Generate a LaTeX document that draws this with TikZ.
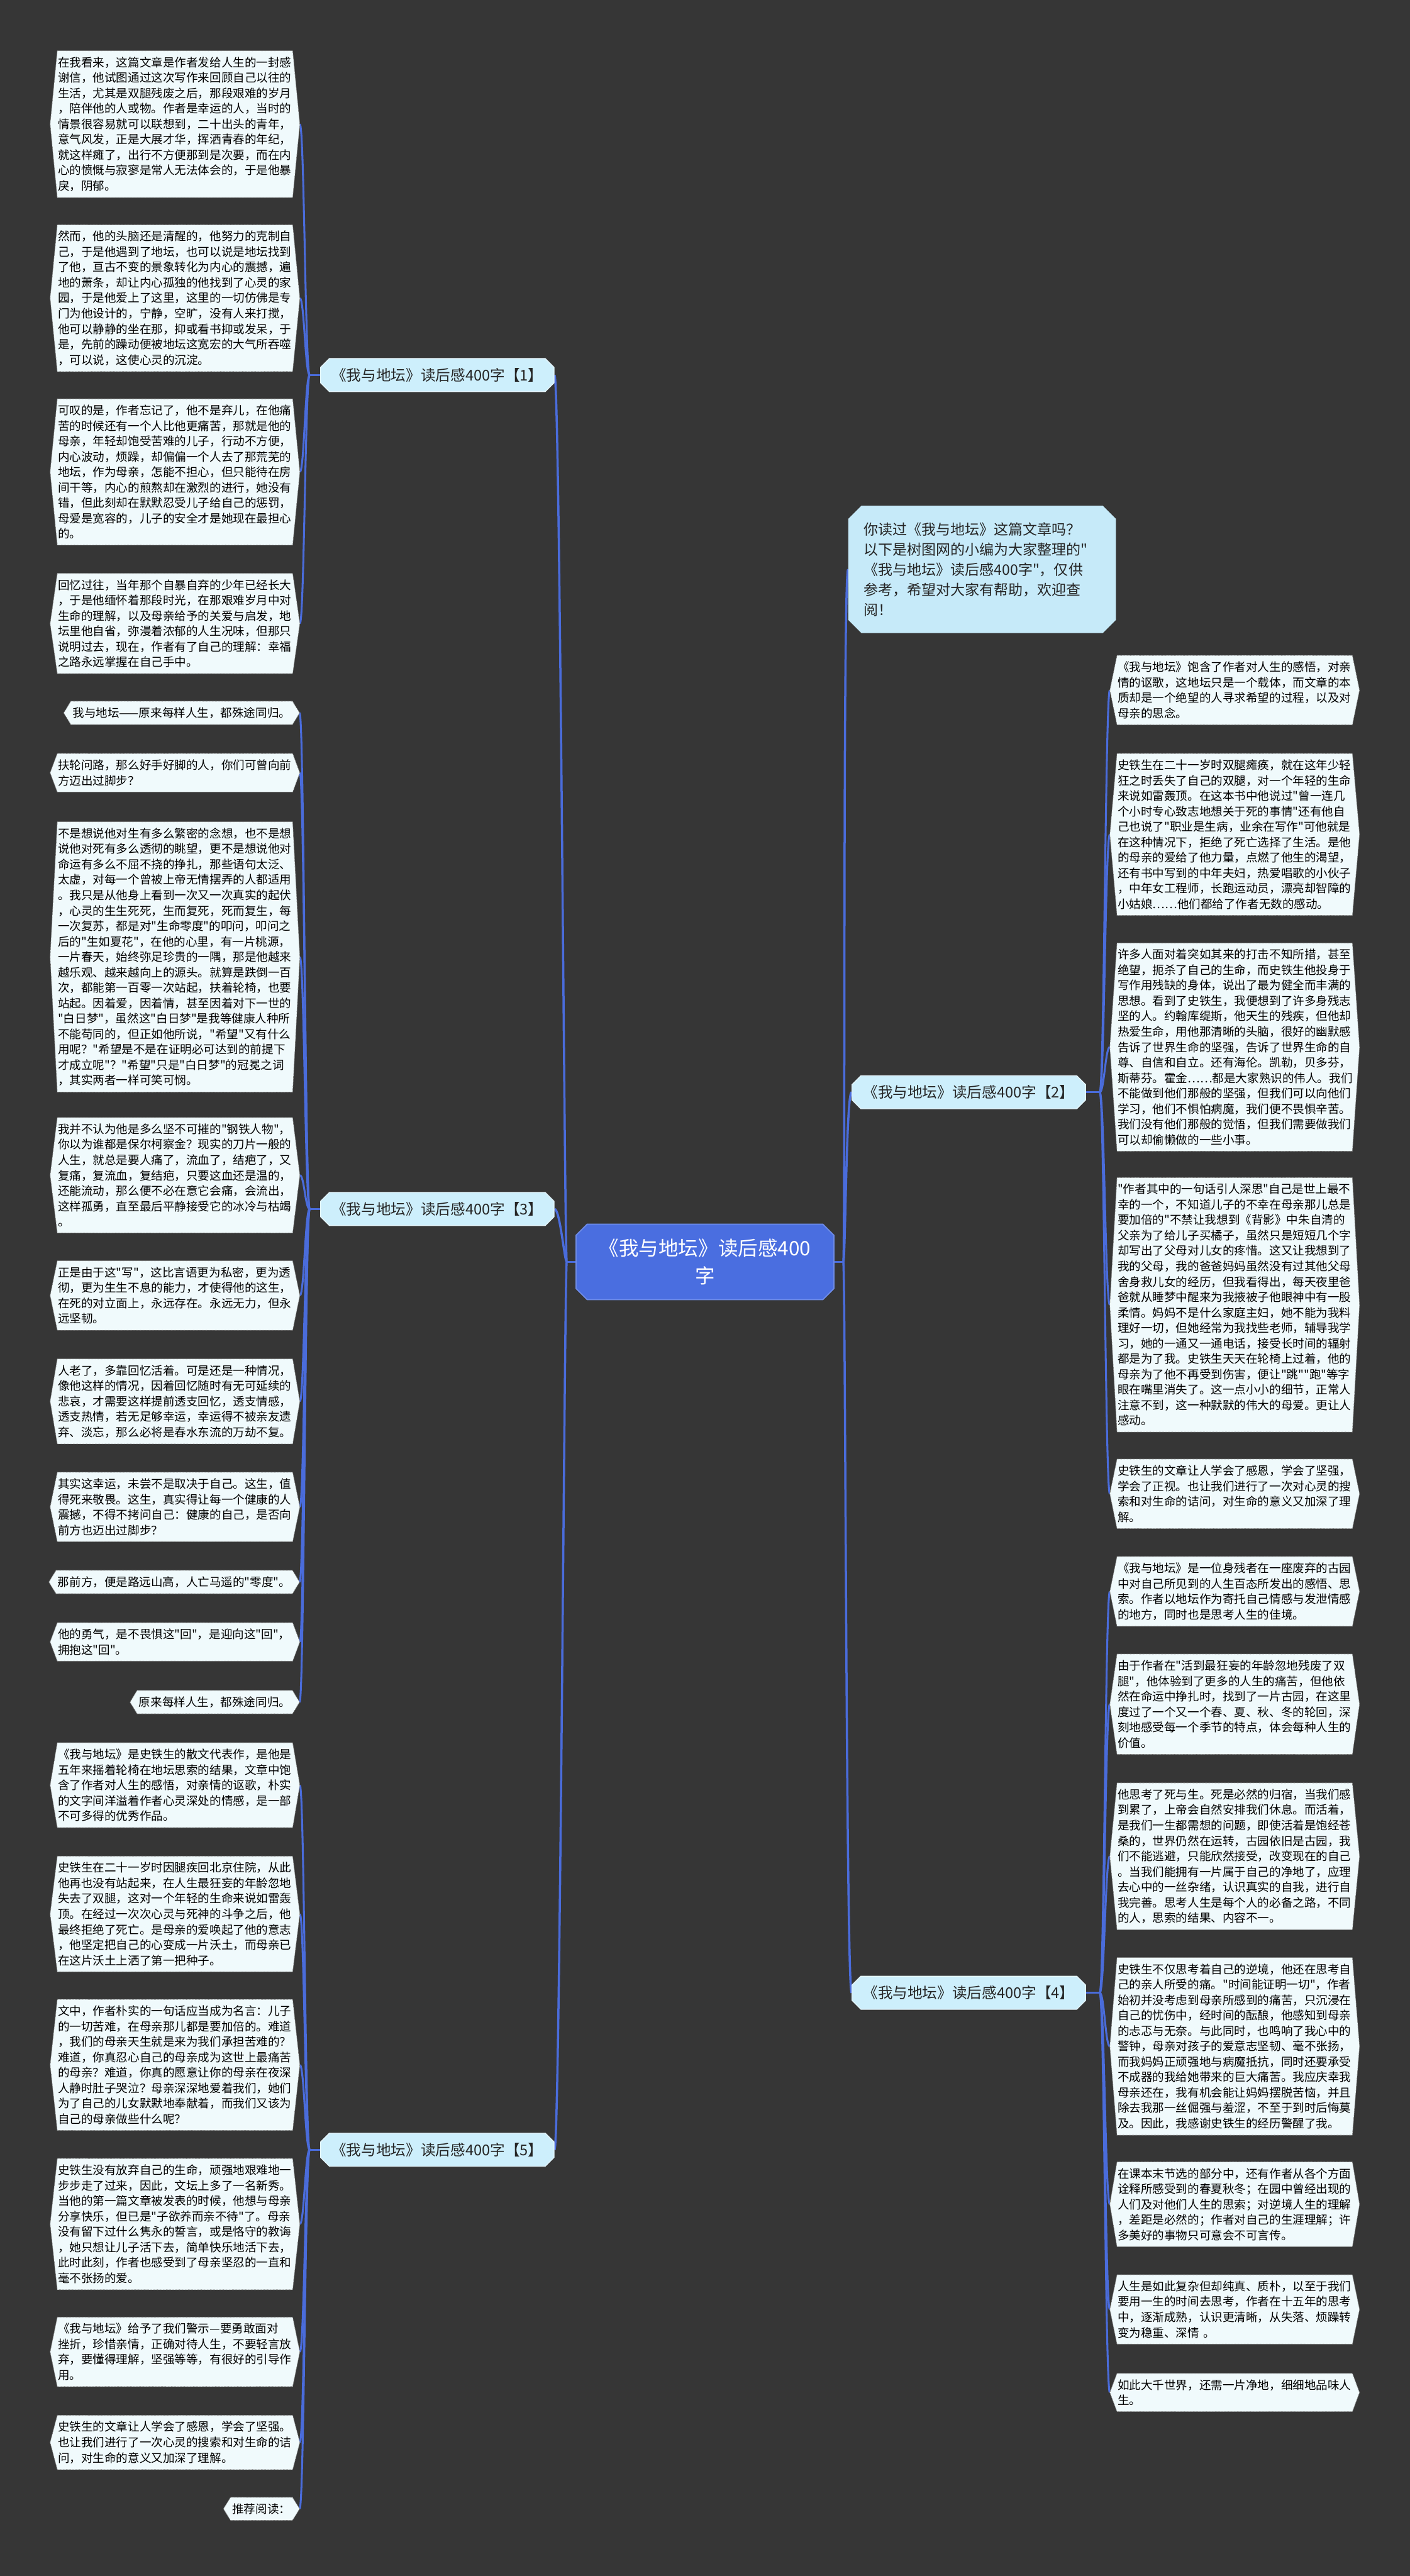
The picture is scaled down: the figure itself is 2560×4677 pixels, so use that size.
\documentclass[tikz,border=0pt]{standalone}
\usepackage{fontspec}
\setmainfont{Noto Sans CJK SC}[Ligatures=TeXOff]
\usetikzlibrary{shapes.misc,calc}
\pgfdeclarelayer{background}
\pgfsetlayers{background,main}
\definecolor{bgc}{HTML}{363636}
\definecolor{linkc}{HTML}{4A6CDB}
\definecolor{centerc}{HTML}{4A6EE0}
\definecolor{branchc}{HTML}{CDEFFC}
\definecolor{branche}{HTML}{E6F7FE}
\definecolor{introc}{HTML}{C6EAF9}
\definecolor{leaffill}{HTML}{F0FAFC}
\definecolor{leafedge}{HTML}{777777}
\newcommand\leaffont{\fontsize{21.2}{28}\selectfont}
\tikzset{
  leaf/.style={anchor=north west, inner xsep=1pt, inner ysep=11pt, text width=425pt, align=left, font=\leaffont, text=black},
  shortleaf/.style={anchor=north east, inner xsep=3pt, inner ysep=11pt, font=\leaffont, text=black},
  hexbox/.style={fill=leaffill, draw=leafedge, densely dotted, line width=1pt},
  link/.style={draw=linkc, line width=4pt},
  sublink/.style={draw=linkc, line width=3.5pt},
  branch/.style={chamfered rectangle, chamfered rectangle xsep=8pt, chamfered rectangle ysep=8pt, fill=branchc, draw=branche, line width=1.5pt, minimum width=424pt, minimum height=60pt, font=\fontsize{27}{30}\selectfont, text=black!85, inner sep=4pt},
}
\begin{document}
\begin{tikzpicture}[x=1pt,y=-1pt]
\begin{pgfonlayer}{background}
\fill[bgc] (0,0) rectangle (2560,4677);
\end{pgfonlayer}
\useasboundingbox (0,0) rectangle (2560,4677);

% center
\node[chamfered rectangle, chamfered rectangle xsep=10pt, chamfered rectangle ysep=10pt, fill=centerc, draw=centerc!80!white, line width=2pt, minimum width=468pt, minimum height=137pt, text=white, align=center, font=\fontsize{36}{51}\selectfont] (c) at (1280,2291) {《我与地坛》读后感400\\字};

% branches
\node[branch] (b1) at (794,681) {《我与地坛》读后感400字【1】};
\node[branch] (b3) at (794,2195) {《我与地坛》读后感400字【3】};
\node[branch] (b5) at (794,3903) {《我与地坛》读后感400字【5】};
\node[branch] (b2) at (1759,1983) {《我与地坛》读后感400字【2】};
\node[branch] (b4) at (1759,3618) {《我与地坛》读后感400字【4】};

% intro
\node[chamfered rectangle, chamfered rectangle xsep=12pt, chamfered rectangle ysep=12pt, fill=introc, anchor=north west, inner xsep=16pt, inner ysep=18pt, text width=430pt, align=left, font=\fontsize{26.3}{36.7}\selectfont, text=black!85] (intro) at (1552,930) {你读过《我与地坛》这篇文章吗？\\以下是树图网的小编为大家整理的"\\《我与地坛》读后感400字"，仅供\\参考，希望对大家有帮助，欢迎查\\阅！};

% ---------- left leaves, branch 1
\node[leaf] (L1a) at (104,92) {在我看来，这篇文章是作者发给人生的一封感\\谢信，他试图通过这次写作来回顾自己以往的\\生活，尤其是双腿残废之后，那段艰难的岁月\\，陪伴他的人或物。作者是幸运的人，当时的\\情景很容易就可以联想到，二十出头的青年，\\意气风发，正是大展才华，挥洒青春的年纪，\\就这样瘫了，出行不方便那到是次要，而在内\\心的愤慨与寂寥是常人无法体会的，于是他暴\\戾，阴郁。};
\node[leaf] (L1b) at (104,408) {然而，他的头脑还是清醒的，他努力的克制自\\己，于是他遇到了地坛，也可以说是地坛找到\\了他，亘古不变的景象转化为内心的震撼，遍\\地的萧条，却让内心孤独的他找到了心灵的家\\园，于是他爱上了这里，这里的一切仿佛是专\\门为他设计的，宁静，空旷，没有人来打搅，\\他可以静静的坐在那，抑或看书抑或发呆，于\\是，先前的躁动便被地坛这宽宏的大气所吞噬\\，可以说，这使心灵的沉淀。};
\node[leaf] (L1c) at (104,724) {可叹的是，作者忘记了，他不是弃儿，在他痛\\苦的时候还有一个人比他更痛苦，那就是他的\\母亲，年轻却饱受苦难的儿子，行动不方便，\\内心波动，烦躁，却偏偏一个人去了那荒芜的\\地坛，作为母亲，怎能不担心，但只能待在房\\间干等，内心的煎熬却在激烈的进行，她没有\\错，但此刻却在默默忍受儿子给自己的惩罚，\\母爱是宽容的，儿子的安全才是她现在最担心\\的。};
\node[leaf] (L1d) at (104,1041) {回忆过往，当年那个自暴自弃的少年已经长大\\，于是他缅怀着那段时光，在那艰难岁月中对\\生命的理解，以及母亲给予的关爱与启发，地\\坛里他自省，弥漫着浓郁的人生况味，但那只\\说明过去，现在，作者有了自己的理解：幸福\\之路永远掌握在自己手中。};

% ---------- branch 3
\node[shortleaf] (L3a) at (531,1273) {我与地坛——原来每样人生，都殊途同归。};
\node[leaf] (L3b) at (104,1368) {扶轮问路，那么好手好脚的人，你们可曾向前\\方迈出过脚步？};
\node[leaf] (L3c) at (104,1492) {不是想说他对生有多么繁密的念想，也不是想\\说他对死有多么透彻的眺望，更不是想说他对\\命运有多么不屈不挠的挣扎，那些语句太泛、\\太虚，对每一个曾被上帝无情摆弄的人都适用\\。我只是从他身上看到一次又一次真实的起伏\\，心灵的生生死死，生而复死，死而复生，每\\一次复苏，都是对"生命零度"的叩问，叩问之\\后的"生如夏花"，在他的心里，有一片桃源，\\一片春天，始终弥足珍贵的一隅，那是他越来\\越乐观、越来越向上的源头。就算是跌倒一百\\次，都能第一百零一次站起，扶着轮椅，也要\\站起。因着爱，因着情，甚至因着对下一世的\\"白日梦"，虽然这"白日梦"是我等健康人种所\\不能苟同的，但正如他所说，"希望"又有什么\\用呢？"希望是不是在证明必可达到的前提下\\才成立呢"？"希望"只是"白日梦"的冠冕之词\\，其实两者一样可笑可悯。};
\node[leaf] (L3d) at (104,2029) {我并不认为他是多么坚不可摧的"钢铁人物"，\\你以为谁都是保尔柯察金？现实的刀片一般的\\人生，就总是要人痛了，流血了，结疤了，又\\复痛，复流血，复结疤，只要这血还是温的，\\还能流动，那么便不必在意它会痛，会流出，\\这样孤勇，直至最后平静接受它的冰冷与枯竭\\。};
\node[leaf] (L3e) at (104,2289) {正是由于这"写"，这比言语更为私密，更为透\\彻，更为生生不息的能力，才使得他的这生，\\在死的对立面上，永远存在。永远无力，但永\\远坚韧。};
\node[leaf] (L3f) at (104,2467) {人老了，多靠回忆活着。可是还是一种情况，\\像他这样的情况，因着回忆随时有无可延续的\\悲哀，才需要这样提前透支回忆，透支情感，\\透支热情，若无足够幸运，幸运得不被亲友遗\\弃、淡忘，那么必将是春水东流的万劫不复。};
\node[leaf] (L3g) at (104,2673) {其实这幸运，未尝不是取决于自己。这生，值\\得死来敬畏。这生，真实得让每一个健康的人\\震撼，不得不拷问自己：健康的自己，是否向\\前方也迈出过脚步？};
\node[shortleaf] (L3h) at (531,2851) {那前方，便是路远山高，人亡马遥的"零度"。};
\node[leaf] (L3i) at (104,2946) {他的勇气，是不畏惧这"回"，是迎向这"回"，\\拥抱这"回"。};
\node[shortleaf] (L3j) at (531,3069) {原来每样人生，都殊途同归。};

% ---------- branch 5
\node[leaf] (L5a) at (104,3164) {《我与地坛》是史铁生的散文代表作，是他是\\五年来摇着轮椅在地坛思索的结果，文章中饱\\含了作者对人生的感悟，对亲情的讴歌，朴实\\的文字间洋溢着作者心灵深处的情感，是一部\\不可多得的优秀作品。};
\node[leaf] (L5b) at (104,3370) {史铁生在二十一岁时因腿疾回北京住院，从此\\他再也没有站起来，在人生最狂妄的年龄忽地\\失去了双腿，这对一个年轻的生命来说如雷轰\\顶。在经过一次次心灵与死神的斗争之后，他\\最终拒绝了死亡。是母亲的爱唤起了他的意志\\，他坚定把自己的心变成一片沃土，而母亲已\\在这片沃土上洒了第一把种子。};
\node[leaf] (L5c) at (104,3630) {文中，作者朴实的一句话应当成为名言：儿子\\的一切苦难，在母亲那儿都是要加倍的。难道\\，我们的母亲天生就是来为我们承担苦难的？\\难道，你真忍心自己的母亲成为这世上最痛苦\\的母亲？难道，你真的愿意让你的母亲在夜深\\人静时肚子哭泣？母亲深深地爱着我们，她们\\为了自己的儿女默默地奉献着，而我们又该为\\自己的母亲做些什么呢？};
\node[leaf] (L5d) at (104,3919) {史铁生没有放弃自己的生命，顽强地艰难地一\\步步走了过来，因此，文坛上多了一名新秀。\\当他的第一篇文章被发表的时候，他想与母亲\\分享快乐，但已是"子欲养而亲不待"了。母亲\\没有留下过什么隽永的誓言，或是恪守的教诲\\，她只想让儿子活下去，简单快乐地活下去，\\此时此刻，作者也感受到了母亲坚忍的一直和\\毫不张扬的爱。};
\node[leaf] (L5e) at (104,4207) {《我与地坛》给予了我们警示—要勇敢面对\\挫折，珍惜亲情，正确对待人生，不要轻言放\\弃，要懂得理解，坚强等等，有很好的引导作\\用。};
\node[leaf] (L5f) at (104,4385) {史铁生的文章让人学会了感恩，学会了坚强。\\也让我们进行了一次心灵的搜索和对生命的诘\\问，对生命的意义又加深了理解。};
\node[shortleaf] (L5g) at (531,4534) {推荐阅读：};

% ---------- right leaves, branch 2
\node[leaf] (R2a) at (2028,1190) {《我与地坛》饱含了作者对人生的感悟，对亲\\情的讴歌，这地坛只是一个载体，而文章的本\\质却是一个绝望的人寻求希望的过程，以及对\\母亲的思念。};
\node[leaf] (R2b) at (2028,1368) {史铁生在二十一岁时双腿瘫痪，就在这年少轻\\狂之时丢失了自己的双腿，对一个年轻的生命\\来说如雷轰顶。在这本书中他说过"曾一连几\\个小时专心致志地想关于死的事情"还有他自\\己也说了"职业是生病，业余在写作"可他就是\\在这种情况下，拒绝了死亡选择了生活。是他\\的母亲的爱给了他力量，点燃了他生的渴望，\\还有书中写到的中年夫妇，热爱唱歌的小伙子\\，中年女工程师，长跑运动员，漂亮却智障的\\小姑娘……他们都给了作者无数的感动。};
\node[leaf] (R2c) at (2028,1712) {许多人面对着突如其来的打击不知所措，甚至\\绝望，扼杀了自己的生命，而史铁生他投身于\\写作用残缺的身体，说出了最为健全而丰满的\\思想。看到了史铁生，我便想到了许多身残志\\坚的人。约翰库缇斯，他天生的残疾，但他却\\热爱生命，用他那清晰的头脑，很好的幽默感\\告诉了世界生命的坚强，告诉了世界生命的自\\尊、自信和自立。还有海伦。凯勒，贝多芬，\\斯蒂芬。霍金……都是大家熟识的伟人。我们\\不能做到他们那般的坚强，但我们可以向他们\\学习，他们不惧怕病魔，我们便不畏惧辛苦。\\我们没有他们那般的觉悟，但我们需要做我们\\可以却偷懒做的一些小事。};
\node[leaf] (R2d) at (2028,2138) {"作者其中的一句话引人深思"自己是世上最不\\幸的一个，不知道儿子的不幸在母亲那儿总是\\要加倍的"不禁让我想到《背影》中朱自清的\\父亲为了给儿子买橘子，虽然只是短短几个字\\却写出了父母对儿女的疼惜。这又让我想到了\\我的父母，我的爸爸妈妈虽然没有过其他父母\\舍身救儿女的经历，但我看得出，每天夜里爸\\爸就从睡梦中醒来为我掖被子他眼神中有一股\\柔情。妈妈不是什么家庭主妇，她不能为我料\\理好一切，但她经常为我找些老师，辅导我学\\习，她的一通又一通电话，接受长时间的辐射\\都是为了我。史铁生天天在轮椅上过着，他的\\母亲为了他不再受到伤害，便让"跳""跑"等字\\眼在嘴里消失了。这一点小小的细节，正常人\\注意不到，这一种默默的伟大的母爱。更让人\\感动。};
\node[leaf] (R2e) at (2028,2649) {史铁生的文章让人学会了感恩，学会了坚强，\\学会了正视。也让我们进行了一次对心灵的搜\\索和对生命的诘问，对生命的意义又加深了理\\解。};

% ---------- branch 4
\node[leaf] (R4a) at (2028,2826) {《我与地坛》是一位身残者在一座废弃的古园\\中对自己所见到的人生百态所发出的感悟、思\\索。作者以地坛作为寄托自己情感与发泄情感\\的地方，同时也是思考人生的佳境。};
\node[leaf] (R4b) at (2028,3003) {由于作者在"活到最狂妄的年龄忽地残废了双\\腿"，他体验到了更多的人生的痛苦，但他依\\然在命运中挣扎时，找到了一片古园，在这里\\度过了一个又一个春、夏、秋、冬的轮回，深\\刻地感受每一个季节的特点，体会每种人生的\\价值。};
\node[leaf] (R4c) at (2028,3237) {他思考了死与生。死是必然的归宿，当我们感\\到累了，上帝会自然安排我们休息。而活着，\\是我们一生都需想的问题，即使活着是饱经苍\\桑的，世界仍然在运转，古园依旧是古园，我\\们不能逃避，只能欣然接受，改变现在的自己\\。当我们能拥有一片属于自己的净地了，应理\\去心中的一丝杂绪，认识真实的自我，进行自\\我完善。思考人生是每个人的必备之路，不同\\的人，思索的结果、内容不一。};
\node[leaf] (R4d) at (2028,3554) {史铁生不仅思考着自己的逆境，他还在思考自\\己的亲人所受的痛。"时间能证明一切"，作者\\始初并没考虑到母亲所感到的痛苦，只沉浸在\\自己的忧伤中，经时间的酝酿，他感知到母亲\\的忐忑与无奈。与此同时，也鸣响了我心中的\\警钟，母亲对孩子的爱意志坚韧、毫不张扬，\\而我妈妈正顽强地与病魔抵抗，同时还要承受\\不成器的我给她带来的巨大痛苦。我应庆幸我\\母亲还在，我有机会能让妈妈摆脱苦恼，并且\\除去我那一丝倔强与羞涩，不至于到时后悔莫\\及。因此，我感谢史铁生的经历警醒了我。};
\node[leaf] (R4e) at (2028,3925) {在课本末节选的部分中，还有作者从各个方面\\诠释所感受到的春夏秋冬；在园中曾经出现的\\人们及对他们人生的思索；对逆境人生的理解\\，差距是必然的；作者对自己的生涯理解；许\\多美好的事物只可意会不可言传。};
\node[leaf] (R4f) at (2028,4130) {人生是如此复杂但却纯真、质朴，以至于我们\\要用一生的时间去思考，作者在十五年的思考\\中，逐渐成熟，认识更清晰，从失落、烦躁转\\变为稳重、深情 。};
\node[leaf] (R4g) at (2028,4309) {如此大千世界，还需一片净地，细细地品味人\\生。};

\begin{pgfonlayer}{background}
% center to branches
\draw[link] (c.west) -- ++(-16,0) coordinate (cl);
\draw[link] (c.east) -- ++(16,0) coordinate (cr);
\foreach \b in {b1,b3,b5}
  \draw[link] (cl) .. controls +(-4,0) and +(10,0) .. (\b.east);
\foreach \b in {intro,b2,b4}
  \draw[link] (cr) .. controls +(4,0) and +(-10,0) .. (\b.west);
% junctions
\draw[sublink] (b1.west) -- ++(-19,0) coordinate (j1);
\draw[sublink] (b3.west) -- ++(-19,0) coordinate (j3);
\draw[sublink] (b5.west) -- ++(-19,0) coordinate (j5);
\draw[sublink] (b2.east) -- ++(25,0) coordinate (j2);
\draw[sublink] (b4.east) -- ++(25,0) coordinate (j4);
\foreach \n in {L1a,L1b,L1c,L1d}
  \draw[sublink] (j1) .. controls +(-8,0) and +(8,0) .. ([xshift=13pt]\n.east);
\foreach \n in {L3a,L3b,L3c,L3d,L3e,L3f,L3g,L3h,L3i,L3j}
  \draw[sublink] (j3) .. controls +(-8,0) and +(8,0) .. ([xshift=13pt]\n.east);
\foreach \n in {L5a,L5b,L5c,L5d,L5e,L5f,L5g}
  \draw[sublink] (j5) .. controls +(-8,0) and +(8,0) .. ([xshift=13pt]\n.east);
\foreach \n in {R2a,R2b,R2c,R2d,R2e}
  \draw[sublink] (j2) .. controls +(8,0) and +(-8,0) .. ([xshift=-13pt]\n.west);
\foreach \n in {R4a,R4b,R4c,R4d,R4e,R4f,R4g}
  \draw[sublink] (j4) .. controls +(8,0) and +(-8,0) .. ([xshift=-13pt]\n.west);
% leaf hexagons
\foreach \n in {L1a,L1b,L1c,L1d,L3a,L3b,L3c,L3d,L3e,L3f,L3g,L3h,L3i,L3j,L5a,L5b,L5c,L5d,L5e,L5f,L5g,R2a,R2b,R2c,R2d,R2e,R4a,R4b,R4c,R4d,R4e,R4f,R4g}
  \path[hexbox] (\n.north west) -- (\n.north east) -- ([xshift=13pt]\n.east) -- (\n.south east) -- (\n.south west) -- ([xshift=-13pt]\n.west) -- cycle;
\end{pgfonlayer}
\end{tikzpicture}
\end{document}
